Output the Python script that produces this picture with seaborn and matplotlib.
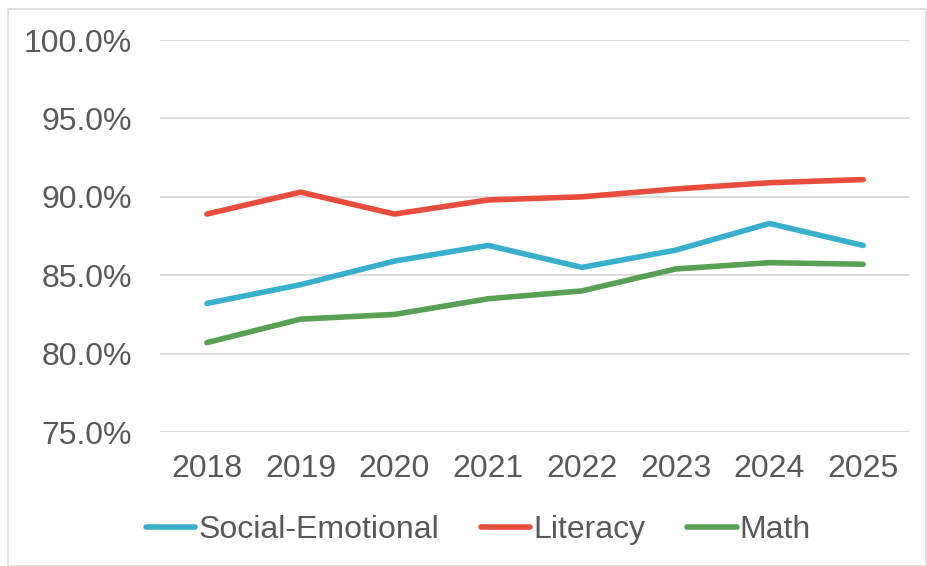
import matplotlib
matplotlib.use("Agg")
import matplotlib.pyplot as plt
import matplotlib.ticker as mtick
import numpy as np
import pandas as pd
import seaborn as sns

years = ["2018", "2019", "2020", "2021", "2022", "2023", "2024", "2025"]
social_emotional = [83.2, 84.4, 85.9, 86.9, 85.5, 86.6, 88.3, 86.9]
literacy = [88.9, 90.3, 88.9, 89.8, 90.0, 90.5, 90.9, 91.1]
math = [80.7, 82.2, 82.5, 83.5, 84.0, 85.4, 85.8, 85.7]
series_names = ["Social-Emotional", "Literacy", "Math"]
colors = ["#38B0CB", "#E84C3D", "#57A054"]

df = pd.DataFrame({
    "year": years * 3,
    "value": social_emotional + literacy + math,
    "subject": np.repeat(series_names, len(years)),
})
df["x"] = df["year"].map({y: i for i, y in enumerate(years)})

sns.set_theme(style="white")
plt.rcParams["font.family"] = ["Liberation Sans", "DejaVu Sans"]
text_color = "#595959"

fig = plt.figure(figsize=(9.27, 5.66), dpi=100)
ax = fig.add_axes([0.1726, 0.2367, 0.8091, 0.6926])

sns.lineplot(data=df, x="x", y="value", hue="subject", hue_order=series_names,
             palette=colors, linewidth=4, ax=ax, legend=False,
             solid_capstyle="round")

ax.set_xlim(-0.5, len(years) - 0.5)
ax.set_ylim(75, 100)
ax.set_yticks(np.arange(75, 100.1, 5))
ax.yaxis.set_major_formatter(mtick.FuncFormatter(lambda v, _: f"{v:.1f}%"))
ax.set_xticks(range(len(years)))
ax.set_xticklabels(years)
ax.set_xlabel("")
ax.set_ylabel("")
ax.grid(axis="y", color="#D9D9D9", linewidth=1.3)
ax.set_axisbelow(True)
for s in ax.spines.values():
    s.set_visible(False)
ax.tick_params(axis="both", length=0, labelsize=23, colors=text_color)
ax.tick_params(axis="y", pad=20)
ax.tick_params(axis="x", pad=16)

handles = [plt.Line2D([], [], color=c, linewidth=4, solid_capstyle="round")
           for c in colors]
leg = fig.legend(handles, series_names, loc="center", bbox_to_anchor=(0.516, 0.064),
                 ncol=3, frameon=False, fontsize=23, handlelength=1.55,
                 handletextpad=0.1, columnspacing=1.3)
for t in leg.get_texts():
    t.set_color(text_color)

fig.patches.append(plt.Rectangle((0.009, 0.0), 0.99, 0.984, transform=fig.transFigure,
                                 fill=False, edgecolor="#D9D9D9", linewidth=1.2))

fig.savefig("out.png", dpi=100)
